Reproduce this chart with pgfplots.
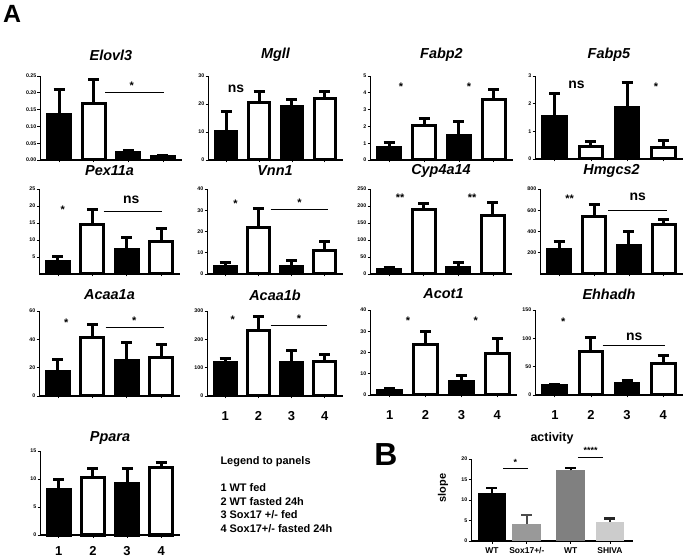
\documentclass[border=0pt]{standalone}
\usepackage{fontspec}
\setmainfont{Liberation Sans}
\usepackage{pgfplots}
\pgfplotsset{compat=1.18}
\pgfplotsset{
  gp/.style={
    scale only axis, anchor=south west, clip=false,
    axis x line*=bottom, axis y line*=left,
    x axis line style={line width=1.8bp},
    y axis line style={line width=0.8bp},
    xmin=0.45, xmax=4.55, ymin=0,
    xtick={1,2,3,4}, xticklabels={},
    tick align=outside, major tick length=2.5bp,
    every tick/.style={black, line width=0.8bp},
    yticklabel style={font=\fontsize{5.3}{6}\selectfont\bfseries, inner sep=1bp},
    /pgf/number format/assume math mode=true,
  },
  nums/.style={xticklabels={1,2,3,4}, xticklabel style={font=\fontsize{13}{14}\selectfont\bfseries, inner sep=2bp, yshift=-#1bp}},
  barb/.style={ybar, bar width=0.66, bar shift=0pt, draw=black, line width=3bp,
     error bars/y dir=plus, error bars/y explicit,
     error bars/error bar style={line width=3bp, black},
     error bars/error mark options={rotate=90, line width=3bp, mark size=5.5bp, black}},
  blk/.style={barb, fill=black},
  wht/.style={barb, fill=white},
  sig/.style={black, line width=0.9bp},
}
\newcommand{\ttl}[2]{\node[font=\fontsize{14.5}{16}\selectfont\bfseries\itshape, yshift=#1bp] at (rel axis cs:0.5,1) {#2};}
\newcommand{\st}[3]{\node[font=\fontsize{11}{11}\selectfont\bfseries] at (axis cs:#1,#2) {#3};}
\newcommand{\ns}[2]{\node[font=\fontsize{14}{14}\selectfont\bfseries] at (axis cs:#1,#2) {ns};}
\begin{document}
\begin{tikzpicture}
\useasboundingbox (0,0) rectangle (685bp,558bp);
\node[font=\fontsize{25}{25}\selectfont\bfseries] at (12bp,544bp) {A};
\node[font=\fontsize{32}{32}\selectfont\bfseries] at (386bp,103bp) {B};
\node[font=\fontsize{11}{12}\selectfont\bfseries, anchor=west] at (217bp,96bp) {Legend to panels};
\node[font=\fontsize{11}{12}\selectfont\bfseries, anchor=west] at (217bp,70bp) {1 WT fed};
\node[font=\fontsize{11}{12}\selectfont\bfseries, anchor=west] at (217bp,56.5bp) {2 WT fasted 24h};
\node[font=\fontsize{11}{12}\selectfont\bfseries, anchor=west] at (217bp,43bp) {3 Sox17 +/- fed};
\node[font=\fontsize{11}{12}\selectfont\bfseries, anchor=west] at (217bp,29.5bp) {4 Sox17+/- fasted 24h};

% Row 1
\begin{axis}[gp, at={(40bp,398bp)}, width=142bp, height=84bp, ymax=0.25,
  ytick={0,0.05,0.1,0.15,0.2,0.25},
  yticklabel style={/pgf/number format/.cd, fixed, fixed zerofill, precision=2}]
\addplot[blk] coordinates {(1,0.134) +- (0,0.076) (3,0.021) +- (0,0.008)};
\addplot[wht] coordinates {(2,0.169) +- (0,0.071) (4,0.011) +- (0,0.003)};
\addplot[sig] coordinates {(2.33,0.2) (4.03,0.2)};
\st{3.1}{0.22}{*}
\ttl{21}{Elovl3}
\end{axis}

\begin{axis}[gp, at={(208bp,398bp)}, width=135bp, height=84bp, ymax=30, ytick={0,10,20,30}]
\addplot[blk] coordinates {(1,10.2) +- (0,7) (3,19.1) +- (0,2.6)};
\addplot[wht] coordinates {(2,20.5) +- (0,3.8) (4,22.1) +- (0,2.3)};
\ns{1.3}{25.3}
\ttl{21}{Mgll}
\end{axis}

\begin{axis}[gp, at={(370bp,398bp)}, width=143bp, height=84bp, ymax=5, ytick={0,1,2,3,4,5}]
\addplot[blk] coordinates {(1,0.73) +- (0,0.3) (3,1.43) +- (0,0.85)};
\addplot[wht] coordinates {(2,2.06) +- (0,0.42) (4,3.61) +- (0,0.59)};
\st{1.34}{4.37}{*}
\st{3.29}{4.37}{*}
\ttl{21}{Fabp2}
\end{axis}

\begin{axis}[gp, at={(535bp,399bp)}, width=148bp, height=83bp, ymax=3, ytick={0,1,2,3}]
\addplot[blk] coordinates {(1,1.52) +- (0,0.85) (3,1.85) +- (0,0.93)};
\addplot[wht] coordinates {(2,0.46) +- (0,0.18) (4,0.43) +- (0,0.24)};
\ns{1.6}{2.67}
\st{3.8}{2.61}{*}
\ttl{21}{Fabp5}
\end{axis}

% Row 2
\begin{axis}[gp, at={(39bp,284bp)}, width=141bp, height=85bp, ymax=25, ytick={5,10,15,20,25}]
\addplot[blk] coordinates {(1,3.6) +- (0,1.4) (3,7.1) +- (0,3.6)};
\addplot[wht] coordinates {(2,14.6) +- (0,4.4) (4,9.7) +- (0,3.6)};
\addplot[sig] coordinates {(2.33,18.3) (4.02,18.3)};
\st{1.14}{19}{*}
\ns{3.13}{21.7}
\ttl{18}{Pex11a}
\end{axis}

\begin{axis}[gp, at={(207bp,284bp)}, width=136bp, height=85bp, ymax=40, ytick={0,10,20,30,40}]
\addplot[blk] coordinates {(1,3.5) +- (0,2) (3,3.6) +- (0,2.7)};
\addplot[wht] coordinates {(2,22) +- (0,8.9) (4,11) +- (0,4.4)};
\addplot[sig] coordinates {(2.37,30.6) (4.09,30.6)};
\st{1.31}{33}{*}
\st{3.24}{33.5}{*}
\ttl{18}{Vnn1}
\end{axis}

\begin{axis}[gp, at={(370bp,284bp)}, width=142bp, height=85bp, ymax=250, ytick={0,50,100,150,200,250}]
\addplot[blk] coordinates {(1,13) +- (0,7) (3,18) +- (0,16)};
\addplot[wht] coordinates {(2,189) +- (0,19) (4,173) +- (0,38)};
\st{1.32}{225}{**}
\st{3.4}{225}{**}
\ttl{18}{Cyp4a14}
\end{axis}

\begin{axis}[gp, at={(540bp,284bp)}, width=143bp, height=85bp, ymax=800, ytick={200,400,600,800}]
\addplot[blk] coordinates {(1,234) +- (0,75) (3,272) +- (0,125)};
\addplot[wht] coordinates {(2,537) +- (0,119) (4,466) +- (0,46)};
\addplot[sig] coordinates {(2.4,600) (4.1,600)};
\st{1.3}{709}{**}
\ns{3.25}{725}
\ttl{18}{Hmgcs2}
\end{axis}

% Row 3
\begin{axis}[gp, at={(39bp,162bp)}, width=141bp, height=85bp, ymax=60, ytick={0,20,40,60}]
\addplot[blk] coordinates {(1,17.3) +- (0,8.8) (3,24.9) +- (0,12.6)};
\addplot[wht] coordinates {(2,41.5) +- (0,9) (4,27.5) +- (0,8.8)};
\addplot[sig] coordinates {(2.39,48.1) (4.08,48.1)};
\st{1.24}{51.7}{*}
\st{3.22}{52.9}{*}
\ttl{16}{Acaa1a}
\end{axis}

\begin{axis}[gp, nums=11, at={(207bp,162bp)}, width=136bp, height=85bp, ymax=300, ytick={0,100,200,300}]
\addplot[blk] coordinates {(1,117.6) +- (0,15.4) (3,118.8) +- (0,41.2)};
\addplot[wht] coordinates {(2,230.6) +- (0,51.4) (4,121) +- (0,27)};
\addplot[sig] coordinates {(2.37,250.6) (4.08,250.6)};
\st{1.23}{268}{*}
\st{3.22}{274}{*}
\ttl{16}{Acaa1b}
\end{axis}

\begin{axis}[gp, nums=11, at={(370bp,163bp)}, width=147bp, height=85bp, ymax=40, ytick={0,10,20,30,40}]
\addplot[blk] coordinates {(1,1.9) +- (0,1.2) (3,6.3) +- (0,3.1)};
\addplot[wht] coordinates {(2,23.6) +- (0,6.3) (4,19.4) +- (0,7.4)};
\st{1.51}{35}{*}
\st{3.4}{35}{*}
\ttl{16}{Acot1}
\end{axis}

\begin{axis}[gp, nums=11, at={(535bp,163bp)}, width=148bp, height=85bp, ymax=150, ytick={0,50,100,150}]
\addplot[blk] coordinates {(1,16.4) +- (0,2.9) (3,20.5) +- (0,4.5)};
\addplot[wht] coordinates {(2,77) +- (0,24) (4,56) +- (0,13)};
\addplot[sig] coordinates {(2.32,88.3) (4.05,88.3)};
\st{1.23}{128.6}{*}
\ns{3.2}{103}
\ttl{16}{Ehhadh}
\end{axis}

% Row 4
\begin{axis}[gp, nums=7, at={(40bp,23bp)}, width=140bp, height=84bp, ymax=15, ytick={0,5,10,15}]
\addplot[blk] coordinates {(1,8.1) +- (0,1.8) (3,9.2) +- (0,2.7)};
\addplot[wht] coordinates {(2,10.2) +- (0,1.7) (4,12.0) +- (0,1.0)};
\ttl{13}{Ppara}
\end{axis}

% Panel B
\begin{axis}[gp, at={(471bp,17bp)}, width=162bp, height=82bp, xmin=0.417, xmax=4.92, ymax=20,
  ytick={0,5,10,15,20}, xtick={1,1.97,3.19,4.28},
  xticklabels={WT,Sox17+/-,WT,SHIVA},
  xticklabel style={font=\fontsize{8.5}{9}\selectfont\bfseries, inner sep=1bp, yshift=-3bp}]
\addplot[ybar, bar width=0.8, bar shift=0pt, fill=black, draw=none,
  error bars/y dir=plus, error bars/y explicit,
  error bars/error bar style={line width=2.2bp, black},
  error bars/error mark options={rotate=90, line width=2.2bp, mark size=5.5bp, black}]
  coordinates {(1,11.7) +- (0,1.26)};
\addplot[ybar, bar width=0.8, bar shift=0pt, fill=black!40, draw=none,
  error bars/y dir=plus, error bars/y explicit,
  error bars/error bar style={line width=2.2bp, black!70},
  error bars/error mark options={rotate=90, line width=2.2bp, mark size=5.5bp, black!70}]
  coordinates {(1.97,4.2) +- (0,2.1)};
\addplot[ybar, bar width=0.8, bar shift=0pt, fill=black!50, draw=none,
  error bars/y dir=plus, error bars/y explicit,
  error bars/error bar style={line width=2.2bp, black},
  error bars/error mark options={rotate=90, line width=2.2bp, mark size=5.5bp, black}]
  coordinates {(3.19,17.2) +- (0,0.6)};
\addplot[ybar, bar width=0.8, bar shift=0pt, fill=black!20, draw=none,
  error bars/y dir=plus, error bars/y explicit,
  error bars/error bar style={line width=2.2bp, black!85},
  error bars/error mark options={rotate=90, line width=2.2bp, mark size=5.5bp, black!85}]
  coordinates {(4.28,4.7) +- (0,0.8)};
\addplot[sig] coordinates {(1.31,17.6) (2.0,17.6)};
\addplot[sig] coordinates {(3.39,20.5) (4.08,20.5)};
\node[font=\fontsize{9}{9}\selectfont\bfseries] at (axis cs:1.65,19.2) {*};
\node[font=\fontsize{9}{9}\selectfont\bfseries] at (axis cs:3.74,22.2) {****};
\node[font=\fontsize{12.5}{13}\selectfont\bfseries, yshift=21bp] at (rel axis cs:0.5,1) {activity};
\end{axis}
\node[font=\fontsize{11}{12}\selectfont\bfseries, rotate=90] at (443bp,70bp) {slope};
\end{tikzpicture}
\end{document}
